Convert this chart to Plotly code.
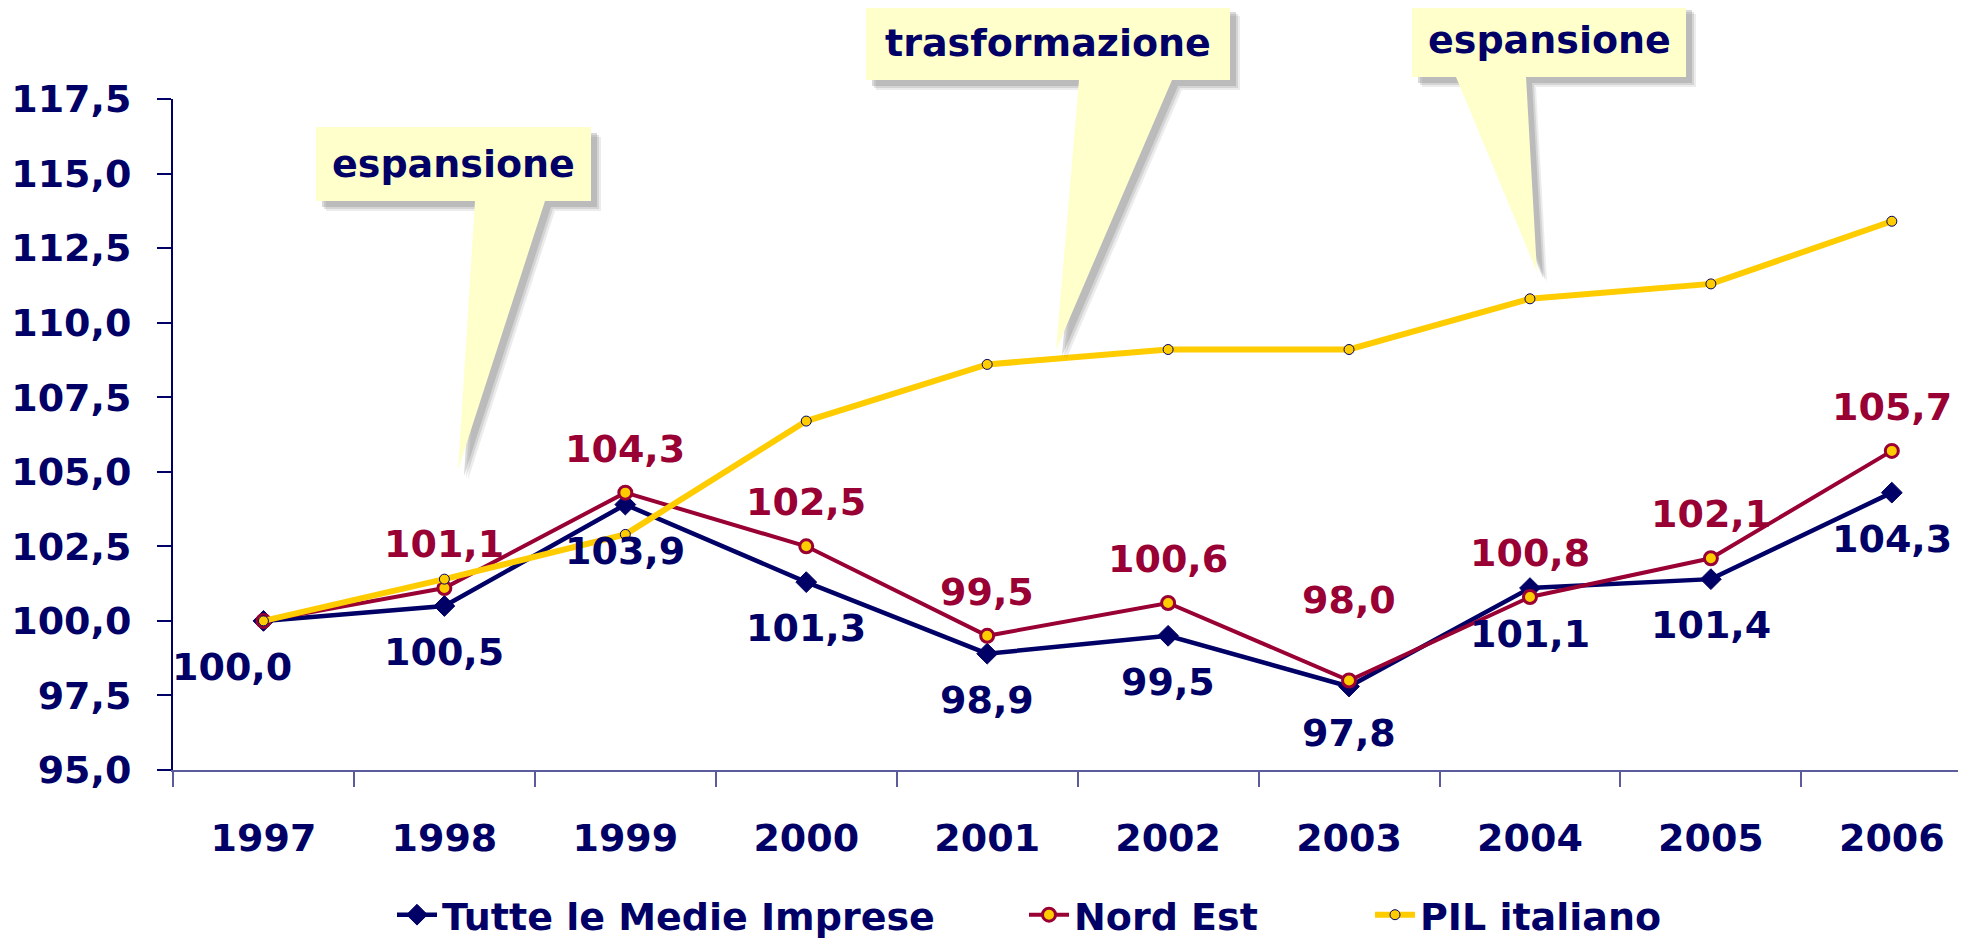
import plotly.graph_objects as go

years = ["1997", "1998", "1999", "2000", "2001", "2002", "2003", "2004", "2005", "2006"]
tutte = [100.0, 100.5, 103.9, 101.3, 98.9, 99.5, 97.8, 101.1, 101.4, 104.3]
nord_est = [100.0, 101.1, 104.3, 102.5, 99.5, 100.6, 98.0, 100.8, 102.1, 105.7]
pil = [100.0, 101.4, 102.9, 106.7, 108.6, 109.1, 109.1, 110.8, 111.3, 113.4]
y_ticks = [95.0, 97.5, 100.0, 102.5, 105.0, 107.5, 110.0, 112.5, 115.0, 117.5]
callout_texts = ["espansione", "trasformazione", "espansione"]

NAVY = "#000066"
RED = "#990033"
YELLOW = "#FFCC00"
FONT = "DejaVu Sans"
FS = 38

OFF = 8  # page body margin
W, H = 1966 - OFF, 938 - OFF
ML, MR, MT, MB = 173 - OFF, 0, 99 - OFF, 168
PW = W - ML - MR
PH = H - MT - MB


def px(x):
    return (x - OFF - ML) / PW


def py(y):
    return (H - MB - (y - OFF)) / PH


def fmt(v):
    return f"{v:.1f}".replace(".", ",")


fig = go.Figure()
fig.add_trace(go.Scatter(
    x=years, y=tutte, name="Tutte le Medie Imprese", mode="lines+markers",
    line=dict(color=NAVY, width=4.5),
    marker=dict(symbol="diamond", size=16, color=NAVY, line=dict(color=NAVY, width=1)),
    legend="legend",
))
fig.add_trace(go.Scatter(
    x=years, y=nord_est, name="Nord Est", mode="lines+markers",
    line=dict(color=RED, width=4),
    marker=dict(symbol="circle", size=13, color=YELLOW, line=dict(color=RED, width=3)),
    legend="legend2",
))
fig.add_trace(go.Scatter(
    x=years, y=pil, name="PIL italiano", mode="lines+markers",
    line=dict(color=YELLOW, width=6),
    marker=dict(symbol="circle", size=10, color=YELLOW, line=dict(color=NAVY, width=1)),
    legend="legend3",
))

annotations = []
for i, v in enumerate(tutte):
    annotations.append(dict(
        x=i, y=v, xref="x", yref="y", text=fmt(v), showarrow=False,
        yanchor="middle", xanchor="center", yshift=-46, xshift=(-31 if i == 0 else 0),
        font=dict(family=FONT, size=FS, color=NAVY, weight="bold"),
    ))
for i, v in enumerate(nord_est):
    if i == 0:
        continue
    annotations.append(dict(
        x=i, y=v, xref="x", yref="y", text=fmt(v), showarrow=False,
        yanchor="middle", xanchor="center", yshift=(81 if years[i] == "2003" else 44),
        font=dict(family=FONT, size=FS, color=RED, weight="bold"),
    ))

# callouts: (box left, top, right, bottom, tail base left, tail base right, tip x, tip y) in page pixels
callouts = [
    (316, 127, 591, 201, 475, 545, 458, 470),
    (866, 6, 1230, 80, 1079, 1172, 1056, 350),
    (1412, 4, 1686, 77, 1456, 1526, 1537, 272),
]

shapes = []


def path_for(c, dx=0, dy=0):
    l, t, r, b, bl, br, tx, ty = c
    pts = [(l, t), (r, t), (r, b), (br, b), (tx, ty), (bl, b), (l, b)]
    s = "M " + " L ".join(f"{px(x + dx):.5f},{py(y + dy):.5f}" for x, y in pts) + " Z"
    return s


for c in callouts:
    for d, op in [(10, 0.15), (8, 0.22), (6, 0.3)]:
        shapes.append(dict(type="path", xref="paper", yref="paper", path=path_for(c, d, d),
                           fillcolor="#808080", opacity=op, line=dict(width=0), layer="above"))
    shapes.append(dict(type="path", xref="paper", yref="paper", path=path_for(c),
                       fillcolor="#FFFFCC", line=dict(width=0), layer="above"))

for c, txt in zip(callouts, callout_texts):
    l, t, r, b = c[:4]
    annotations.append(dict(
        x=px((l + r) / 2), y=py((t + b) / 2), xref="paper", yref="paper", text=txt,
        showarrow=False, xanchor="center", yanchor="middle",
        font=dict(family=FONT, size=FS, color=NAVY, weight="bold"),
    ))

leg_common = dict(orientation="h", xanchor="left", y=py(915), yanchor="middle",
                  font=dict(family=FONT, size=FS, color=NAVY, weight="bold"),
                  bgcolor="rgba(0,0,0,0)", itemwidth=40)

fig.update_layout(
    width=W, height=H,
    margin=dict(l=ML, r=MR, t=MT, b=MB, pad=0, autoexpand=False),
    paper_bgcolor="white", plot_bgcolor="white",
    separators=",.",
    font=dict(family=FONT, size=FS, color=NAVY, weight="bold"),
    showlegend=True,
    legend=dict(x=px(392), **leg_common),
    legend2=dict(x=px(1024), **leg_common),
    legend3=dict(x=px(1370), **leg_common),
    annotations=annotations,
    shapes=shapes,
    xaxis=dict(
        type="category", range=[-0.5, 9.41], showgrid=False, zeroline=False,
        showline=True, linecolor="#5C5C9C", linewidth=2,
        ticks="outside", tickson="boundaries", ticklen=15, tickcolor="#5C5C9C", tickwidth=2,
        tickfont=dict(family=FONT, size=FS, color=NAVY, weight="bold"),
        ticklabelstandoff=33,
    ),
    yaxis=dict(
        range=[95, 117.5], tickvals=y_ticks, ticktext=[fmt(v) for v in y_ticks],
        showgrid=False, zeroline=False,
        showline=True, linecolor=NAVY, linewidth=2,
        ticks="outside", ticklen=14, tickcolor=NAVY, tickwidth=2,
        tickfont=dict(family=FONT, size=FS, color=NAVY, weight="bold"),
        ticklabelstandoff=18,
    ),
)

fig.write_html("out.html")
